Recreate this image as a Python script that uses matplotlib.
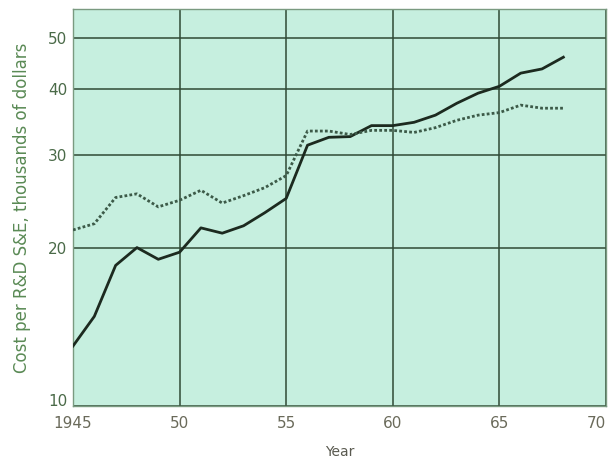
import matplotlib
matplotlib.use("Agg")
import matplotlib.pyplot as plt
import matplotlib.transforms as mtransforms
from matplotlib.ticker import FixedLocator, NullLocator, FixedFormatter

years = list(range(1945, 1969))
cost_solid = [13.0, 14.8, 18.5, 20.0, 19.0, 19.6, 21.8, 21.3, 22.0, 23.3, 24.8,
              31.3, 32.4, 32.5, 34.1, 34.1, 34.6, 35.7, 37.6, 39.3, 40.5, 42.9,
              43.7, 46.0]
cost_dotted = [21.6, 22.2, 24.9, 25.3, 23.9, 24.6, 25.7, 24.3, 25.1, 26.0, 27.4,
               33.3, 33.3, 32.8, 33.4, 33.4, 33.1, 33.8, 34.9, 35.7, 36.1, 37.3,
               36.8, 36.8]
x_ticks = [1945, 1950, 1955, 1960, 1965, 1970]
x_tick_labels = ["1945", "50", "55", "60", "65", "70"]
y_ticks = [10, 20, 30, 40, 50]
y_tick_labels = ["10", "20", "30", "40", "50"]

fig = plt.figure(figsize=(6.10, 4.61), dpi=100)
ax = fig.add_axes([73/610, 1 - 406/461, (606-73)/610, (406-9)/461])
ax.set_facecolor("#c6efdf")

ax.plot(years, cost_solid, color="#1c2a1f", lw=2.0, zorder=3)
ax.plot(years, cost_dotted, color="#3c5a48", lw=2.0, ls=(0, (1, 0.8)), zorder=3)

ax.set_yscale("log")
ax.set_ylim(10, 56.8)
ax.set_xlim(1945, 1970)
ax.yaxis.set_major_locator(FixedLocator(y_ticks))
ax.yaxis.set_major_formatter(FixedFormatter(y_tick_labels))
ax.yaxis.set_minor_locator(NullLocator())
ax.set_xticks(x_ticks)
ax.set_xticklabels(x_tick_labels)

ax.grid(True, color="#2f4a35", lw=1.1)
ax.set_axisbelow(True)
for s in ax.spines.values():
    s.set_color("#7a9a80")
    s.set_linewidth(1.0)

ax.tick_params(axis="y", length=0, pad=4, labelsize=11, labelcolor="#4a6a48")
ax.tick_params(axis="x", length=0, pad=7, labelsize=11, labelcolor="#6a6a5a")
xl = ax.get_xticklabels()
xl[-1].set_horizontalalignment("right")
xl[-1].set_x(1970)

fig.canvas.draw()
yl = ax.get_yticklabels()
for lab in yl:
    if lab.get_text() == "10":
        lab.set_transform(lab.get_transform() +
                          mtransforms.ScaledTranslation(0, 6/100, fig.dpi_scale_trans))

ax.set_ylabel("Cost per R&D S&E, thousands of dollars", color="#5a8a55",
              fontsize=12, labelpad=12)
ax.set_xlabel("Year", color="#5a5a50", fontsize=10, labelpad=10)

fig.savefig("out.png", dpi=100)
